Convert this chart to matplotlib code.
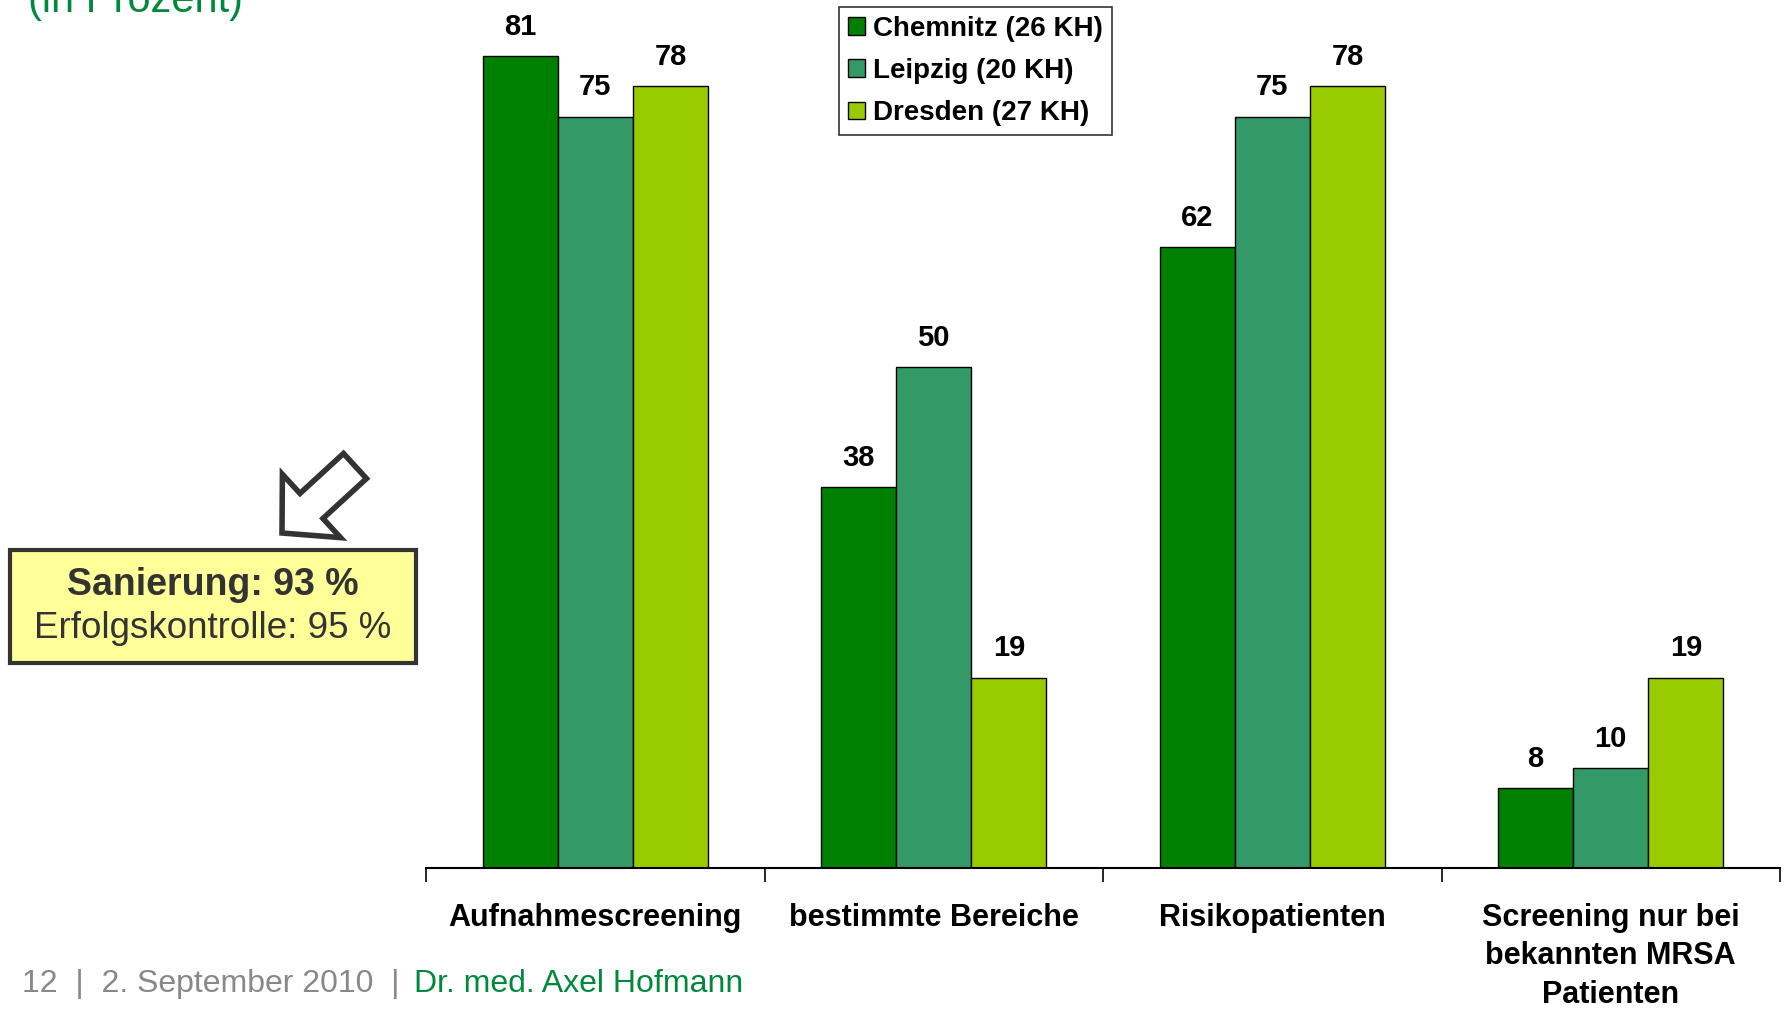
import matplotlib
matplotlib.use("Agg")
import matplotlib.pyplot as plt
import numpy as np
from matplotlib.patches import FancyArrow, Rectangle
from matplotlib.transforms import Affine2D

plt.rcParams["font.family"] = ["Liberation Sans", "DejaVu Sans"]

categories = ["Aufnahmescreening", "bestimmte Bereiche", "Risikopatienten",
              "Screening nur bei\nbekannten MRSA\nPatienten"]
series = ["Chemnitz (26 KH)", "Leipzig (20 KH)", "Dresden (27 KH)"]
chemnitz = [81, 38, 62, 8]
leipzig = [75, 50, 75, 10]
dresden = [78, 19, 78, 19]
colors = ["#008000", "#339966", "#99CC00"]

W, H = 1787, 1009
fig = plt.figure(figsize=(W / 100, H / 100), dpi=100)
ax = fig.add_axes([426 / W, 1 - 868 / H, (1780 - 426) / W, 868 / H])

x = np.arange(len(categories))
bw = 0.222
for k, (name, vals, c) in enumerate(zip(series, [chemnitz, leipzig, dresden], colors)):
    xs = x + (k - 1) * bw
    ax.bar(xs, vals, width=bw, color=c, edgecolor="black", linewidth=1.0, label=name)
    for xi, v in zip(xs, vals):
        ax.annotate(str(v), (xi, v), xytext=(0, 21), textcoords="offset points",
                    ha="center", va="center", fontsize=21, fontweight="bold")

ax.set_xlim(-0.5, 3.5)
ax.set_ylim(0, 868 / 10.02)
for s in ["top", "right", "left"]:
    ax.spines[s].set_visible(False)
ax.spines["bottom"].set_linewidth(1.5)
ax.set_yticks([])
ax.set_xticks(x)
ax.set_xticklabels(categories, fontsize=22, fontweight="bold", linespacing=1.38)
ax.tick_params(axis="x", which="major", length=0, pad=25)
ax.set_xticks(np.arange(-0.5, 4.0, 1.0), minor=True)
ax.tick_params(axis="x", which="minor", length=10, width=1.2, direction="out")

leg = ax.legend(loc="upper left", bbox_to_anchor=((839 - 426) / (1780 - 426), 1 - 7 / 868),
                prop={"weight": "bold", "size": 20}, frameon=True, fancybox=False,
                edgecolor="black", handlelength=0.6, handleheight=0.6, handletextpad=0.3,
                labelspacing=0.58, borderpad=0.32, borderaxespad=0)
leg.get_frame().set_linewidth(1.2)

px = Affine2D().scale(1 / W, 1 / H) + fig.transFigure

# callout box + arrow
fig.patches.append(Rectangle((10, H - 663), 406, 113, facecolor="#FFFF99",
                             edgecolor="#333333", linewidth=3, transform=px))
tail = (355, H - 466)
tip = (282, H - 533)
fig.patches.append(FancyArrow(tail[0], tail[1], tip[0] - tail[0], tip[1] - tail[1],
                              width=34, head_width=86, head_length=40,
                              length_includes_head=True, facecolor="white",
                              edgecolor="#333333", linewidth=4, transform=px))
fig.text(213 / W, 1 - 585 / H, "Sanierung: 93 %", ha="center", va="center",
         fontsize=27, fontweight="bold", color="#333333")
fig.text(213 / W, 1 - 628 / H, "Erfolgskontrolle: 95 %", ha="center", va="center",
         fontsize=26.5, color="#333333")

# subtitle, cut off at the top edge as in the slide
fig.text(28 / W, 1 - 12 / H, "(in Prozent)", ha="left", va="baseline",
         fontsize=30, color="#00893D")

# footer
fig.text(22 / W, 1 - 992 / H, "12  |  2. September 2010  |  ", ha="left", va="baseline",
         fontsize=23, color="#888888")
fig.text(414 / W, 1 - 992 / H, "Dr. med. Axel Hofmann", ha="left", va="baseline",
         fontsize=23, color="#00893D")

fig.savefig("out.png", dpi=100)
